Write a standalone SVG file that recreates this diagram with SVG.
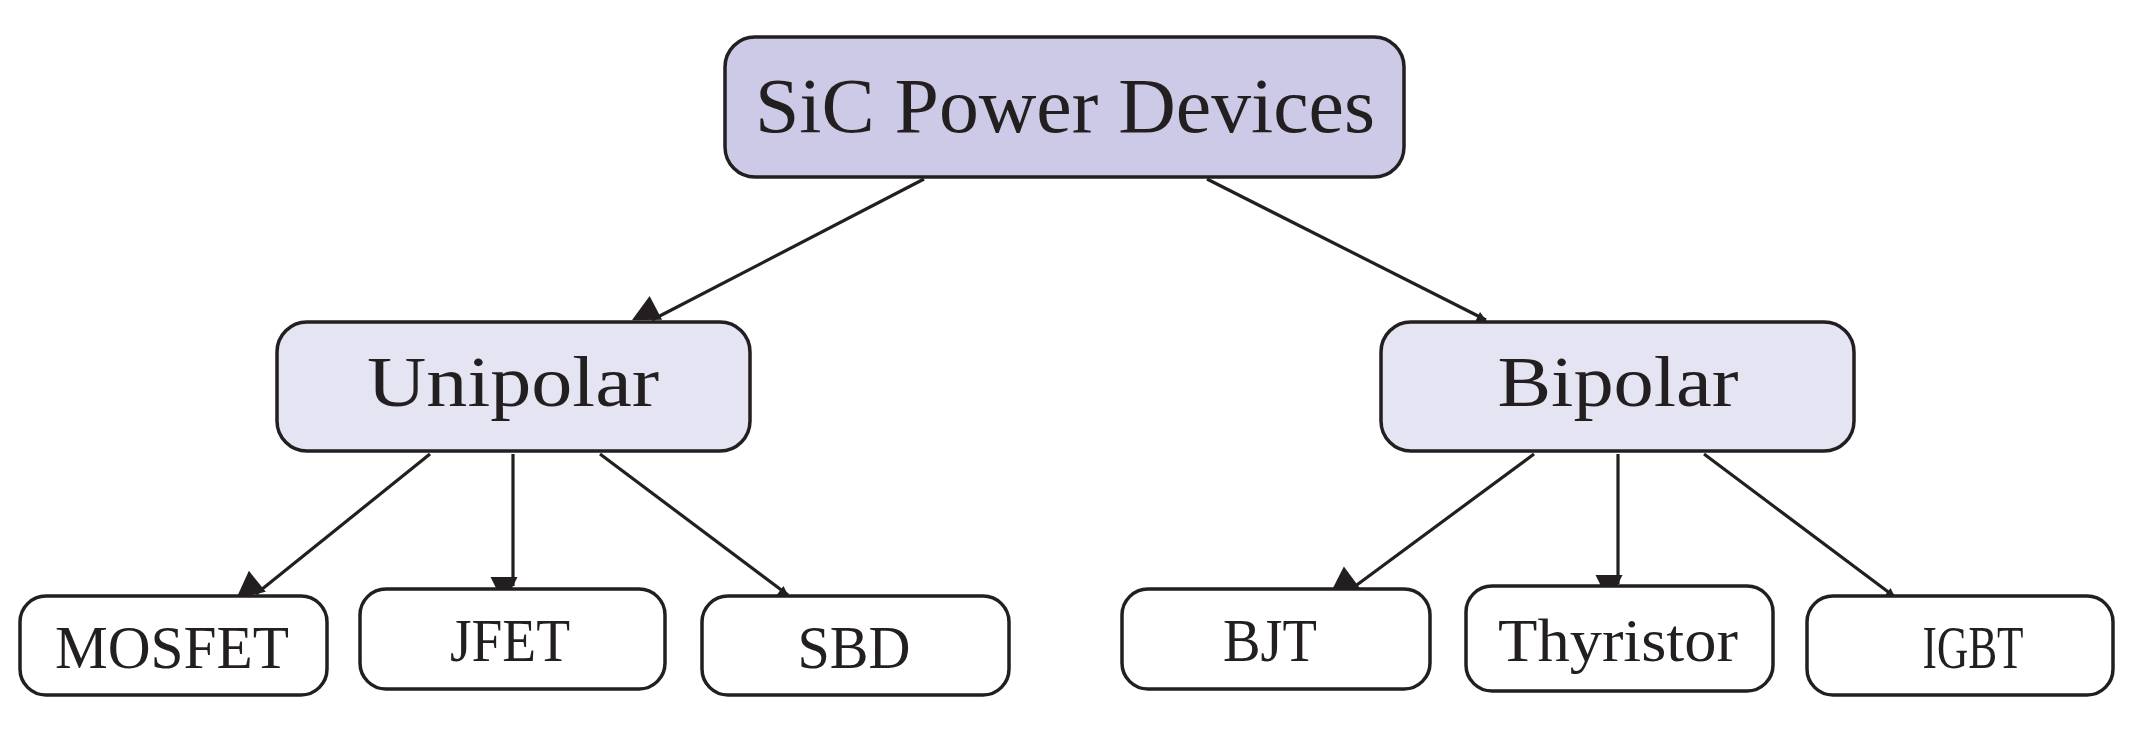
<svg xmlns="http://www.w3.org/2000/svg" width="2138" height="730" viewBox="0 0 2138 730">
<style>
.box{stroke:#231f20;stroke-width:3.5}
.root{fill:#cccae6}
.mid{fill:#e5e4f2}
.leaf{fill:#ffffff}
text{font-family:"Liberation Serif","DejaVu Serif",serif;fill:#231f20;text-anchor:middle}
.c{stroke:#231f20;stroke-width:3.2;fill:none;marker-end:url(#ah)}
</style>
<defs>
<marker id="ah" viewBox="0 0 10 10" refX="10" refY="5" markerWidth="9" markerHeight="9" markerUnits="userSpaceOnUse" orient="auto" style="overflow:visible">
<path d="M0,0 L10,5 L0,10 z" fill="#231f20" transform="scale(3)"/>
</marker>
</defs>
<g id="connectors">
<line class="c" x1="924" y1="179" x2="652" y2="320"/>
<line class="c" x1="1207" y1="179" x2="1486" y2="320"/>
<line class="c" x1="430" y1="454" x2="256" y2="594"/>
<line class="c" x1="513" y1="454" x2="513" y2="586"/>
<line class="c" x1="600" y1="454" x2="788" y2="595"/>
<line class="c" x1="1534" y1="454" x2="1350" y2="590"/>
<line class="c" x1="1618" y1="454" x2="1618" y2="584"/>
<line class="c" x1="1704" y1="454" x2="1895" y2="597"/>
</g>
<g id="root"><rect class="box root" x="725" y="37" width="679" height="140" rx="30"/><text x="1065" y="132" font-size="78" textLength="620" lengthAdjust="spacingAndGlyphs">SiC Power Devices</text></g>
<g id="unipolar"><rect class="box mid" x="277" y="322" width="473" height="129" rx="30"/><text x="513" y="406" font-size="72" textLength="292" lengthAdjust="spacingAndGlyphs">Unipolar</text></g>
<g id="bipolar"><rect class="box mid" x="1381" y="322" width="473" height="129" rx="30"/><text x="1618" y="406" font-size="72" textLength="241" lengthAdjust="spacingAndGlyphs">Bipolar</text></g>
<g id="mosfet"><rect class="box leaf" x="20" y="596" width="307" height="99" rx="26"/><text x="172" y="668" font-size="62" textLength="234" lengthAdjust="spacingAndGlyphs">MOSFET</text></g>
<g id="jfet"><rect class="box leaf" x="360" y="589" width="305" height="100" rx="26"/><text x="510" y="661" font-size="62" textLength="120" lengthAdjust="spacingAndGlyphs">JFET</text></g>
<g id="sbd"><rect class="box leaf" x="702" y="596" width="307" height="99" rx="26"/><text x="854" y="668" font-size="62" textLength="113" lengthAdjust="spacingAndGlyphs">SBD</text></g>
<g id="bjt"><rect class="box leaf" x="1122" y="589" width="308" height="100" rx="26"/><text x="1270" y="661" font-size="62" textLength="94" lengthAdjust="spacingAndGlyphs">BJT</text></g>
<g id="thyristor"><rect class="box leaf" x="1466" y="586" width="307" height="105" rx="26"/><text x="1618" y="661" font-size="62" textLength="240" lengthAdjust="spacingAndGlyphs">Thyristor</text></g>
<g id="igbt"><rect class="box leaf" x="1807" y="596" width="306" height="99" rx="26"/><text x="1973" y="668" font-size="62" textLength="101" lengthAdjust="spacingAndGlyphs">IGBT</text></g>
</svg>
